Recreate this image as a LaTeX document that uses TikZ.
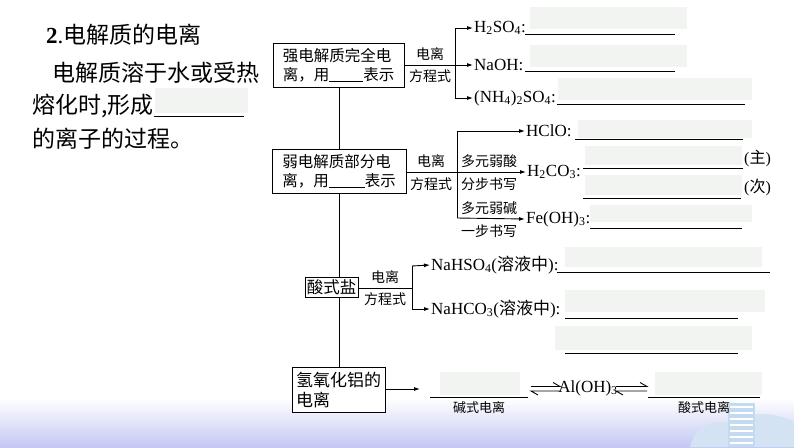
\documentclass[tikz,border=0pt]{standalone}
\usepackage{fontspec}
\setmainfont{Liberation Serif}
\newfontfamily\cjk{Noto Sans CJK SC}
\usetikzlibrary{arrows.meta}
\definecolor{phc}{HTML}{F1F4F1}
\definecolor{bandc}{HTML}{C4C8F2}
\definecolor{cityc}{HTML}{B5D0EC}
\tikzset{
  bx/.style={draw, line width=0.9pt, fill=white, inner sep=3pt, align=left, font=\cjk\fontsize{15.5}{19}\selectfont},
  lbl/.style={inner sep=1pt, font=\cjk\fontsize{14}{16}\selectfont},
  fm/.style={inner sep=1pt, anchor=west, font=\fontsize{17}{18}\selectfont},
  ph/.style={fill=phc, draw=none},
  ul/.style={line width=0.9pt},
  ln/.style={line width=0.9pt},
  arr/.style={line width=0.9pt, -{Latex[length=6pt,width=4pt]}},
  hp/.style={line width=0.9pt},
}
\newcommand{\blk}[1]{\rule[-2pt]{#1}{0.7pt}}
\begin{document}
\begin{tikzpicture}[x=1pt,y=-1pt]
\useasboundingbox (0,0) rectangle (794,447);
% background band
\shade[top color=white, bottom color=bandc] (0,398) rectangle (794,447);
% city decoration
\fill[cityc!60] (690,447) .. controls (695,425) and (715,418) .. (735,424) .. controls (750,410) and (775,412) .. (794,422) -- (794,447) -- cycle;
\fill[cityc!80] (728,403) rectangle (755,447);
\foreach \yy in {407,413,...,443} \draw[white, line width=1.3pt] (730,\yy) -- (753,\yy);
% title and paragraph
\node[anchor=west, inner sep=0pt, font=\fontsize{23}{26}\selectfont] (title) at (46,35) {\textbf{2}.{\cjk 电解质的电离}};
\fill[ph] (155,88) rectangle (248,113);
\node[anchor=west, inner sep=0pt, font=\cjk\fontsize{23}{26}\selectfont] (p1) at (52,73) {电解质溶于水或受热};
\node[anchor=west, inner sep=0pt, font=\cjk\fontsize{23}{26}\selectfont] (p2) at (32,106) {熔化时,形成\rule[-3pt]{90pt}{0.7pt}};
\node[anchor=west, inner sep=0pt, font=\cjk\fontsize{23}{26}\selectfont] (p3) at (32,139) {的离子的过程。};
% placeholders
\fill[ph] (530,7) rectangle (687,29);
\fill[ph] (530,45) rectangle (687,67);
\fill[ph] (558,78) rectangle (752,100);
\fill[ph] (578,120) rectangle (752,138);
\fill[ph] (585,146) rectangle (742,165);
\fill[ph] (585,175) rectangle (742,195);
\fill[ph] (590,205) rectangle (752,222);
\fill[ph] (565,247) rectangle (762,267);
\fill[ph] (565,290) rectangle (765,312);
\fill[ph] (555,326) rectangle (752,350);
\fill[ph] (440,372) rectangle (520,395);
\fill[ph] (655,372) rectangle (762,395);
% boxes
\node[bx, minimum width=131pt, minimum height=44pt] (b1) at (338.5,65) {强电解质完全电\\离，用\blk{34pt}表示};
\node[bx, minimum width=134pt, minimum height=44pt] (b2) at (339,171) {弱电解质部分电\\离，用\blk{36pt}表示};
\node[bx, minimum width=53pt, minimum height=20pt, inner sep=0.5pt, font=\cjk\fontsize{16.5}{19}\selectfont] (b3) at (331.5,287.5) {酸式盐};
\node[bx, minimum width=93pt, minimum height=45pt, font=\cjk\fontsize{17}{20}\selectfont] (b4) at (338.5,390) {氢氧化铝的\\电离};
% main vertical line
\draw[ln] (b1.south -| 339,0) -- (b2.north -| 339,0);
\draw[ln] (b2.south -| 339,0) -- (b3.north -| 339,0);
\draw[ln] (b3.south -| 339,0) -- (b4.north -| 339,0);
% branch 1
\coordinate (j1) at (455,65);
\coordinate (j1a) at (455,28);
\coordinate (j1c) at (455,98);
\draw[ln] (b1.east) -- (j1);
\draw[ln] (j1a) -- (j1c);
\node[lbl] (l1a) at (430,54) {电离};
\node[lbl] (l1b) at (430,76) {方程式};
\node[fm] (t11) at (473,28) {H\textsubscript{2}SO\textsubscript{4}:};
\node[fm] (t12) at (473,65) {NaOH:};
\node[fm] (t13) at (473,98) {(NH\textsubscript{4})\textsubscript{2}SO\textsubscript{4}:};
\draw[arr] (j1a) -- (t11.west);
\draw[arr] (j1) -- (t12.west);
\draw[arr] (j1c) -- (t13.west);
\coordinate (u11a) at (525,34); \coordinate (u11b) at (675,34);
\coordinate (u12a) at (525,71); \coordinate (u12b) at (675,71);
\coordinate (u13a) at (557,104); \coordinate (u13b) at (745,104);
\draw[ul] (u11a) -- (u11b);
\draw[ul] (u12a) -- (u12b);
\draw[ul] (u13a) -- (u13b);
% branch 2
\coordinate (j2) at (457,172);
\coordinate (j2a) at (457,131);
\coordinate (j2c) at (457,218);
\draw[ln] (b2.east |- j2) -- (j2);
\draw[ln] (j2a) -- (j2c);
\node[lbl] (l2a) at (431,161) {电离};
\node[lbl] (l2b) at (431,184) {方程式};
\node[lbl] (l2c) at (489,161) {多元弱酸};
\node[lbl] (l2d) at (489,184) {分步书写};
\node[lbl] (l2e) at (489,208) {多元弱碱};
\node[lbl] (l2f) at (489,231) {一步书写};
\node[fm] (t21) at (525,131) {HClO:};
\node[fm] (t22) at (526,172) {H\textsubscript{2}CO\textsubscript{3}:};
\node[fm] (t23) at (525,219) {Fe(OH)\textsubscript{3}:};
\draw[arr] (j2a) -- (t21.west);
\draw[arr] (j2) -- (t22.west);
\draw[arr] (j2c) -- (t23.west);
\coordinate (u21a) at (575,139); \coordinate (u21b) at (743,139);
\coordinate (u22a) at (583,168); \coordinate (u22b) at (743,168);
\coordinate (u23a) at (583,198); \coordinate (u23b) at (741,198);
\coordinate (u24a) at (590,228); \coordinate (u24b) at (742,228);
\draw[ul] (u21a) -- (u21b);
\draw[ul] (u22a) -- (u22b);
\draw[ul] (u23a) -- (u23b);
\draw[ul] (u24a) -- (u24b);
\node[fm, font=\fontsize{16}{17}\selectfont] (zhu) at (743,159) {({\cjk 主})};
\node[fm, font=\fontsize{16}{17}\selectfont] (ci) at (743,187) {({\cjk 次})};
% branch 3
\coordinate (j3) at (412,288);
\coordinate (j3a) at (412,266);
\coordinate (j3c) at (412,309);
\draw[ln] (b3.east |- j3) -- (j3);
\draw[ln] (j3a) -- (j3c);
\node[lbl] (l3a) at (385,277) {电离};
\node[lbl] (l3b) at (385,299) {方程式};
\node[fm] (t31) at (430,265) {NaHSO\textsubscript{4}({\cjk 溶液中}):};
\node[fm] (t32) at (430,309) {NaHCO\textsubscript{3}({\cjk 溶液中}):};
\draw[arr] (j3a) -- (t31.west);
\draw[arr] (j3c) -- (t32.west);
\coordinate (u31a) at (557,272); \coordinate (u31b) at (770,272);
\coordinate (u32a) at (565,318); \coordinate (u32b) at (738,318);
\coordinate (u33a) at (565,353); \coordinate (u33b) at (738,353);
\draw[ul] (u31a) -- (u31b);
\draw[ul] (u32a) -- (u32b);
\draw[ul] (u33a) -- (u33b);
% branch 4
\coordinate (e4) at (420,389);
\draw[arr] (b4.east |- e4) -- (e4);
\coordinate (u41a) at (430,397); \coordinate (u41b) at (528,397);
\coordinate (u42a) at (648,397); \coordinate (u42b) at (760,397);
\draw[ul] (u41a) -- (u41b);
\draw[ul] (u42a) -- (u42b);
\node[lbl, font=\cjk\fontsize{13}{15}\selectfont] (l4a) at (479,408) {碱式电离};
\node[lbl, font=\cjk\fontsize{13}{15}\selectfont] (l4b) at (704,408) {酸式电离};
\node[fm, anchor=center] (al) at (588,388) {Al(OH)\textsubscript{3}};
% equilibrium harpoons
\coordinate (h1a) at (531,386.5); \coordinate (h1b) at (560,386.5);
\coordinate (h1c) at (531,391); \coordinate (h1d) at (560,391);
\draw[hp] (h1a) -- (h1b) -- ++(-7,-4);
\draw[hp] (h1d) -- (h1c) -- ++(7,4);
\coordinate (h2a) at (616,386.5); \coordinate (h2b) at (647,386.5);
\coordinate (h2c) at (616,391); \coordinate (h2d) at (647,391);
\draw[hp] (h2a) -- (h2b) -- ++(-7,-4);
\draw[hp] (h2d) -- (h2c) -- ++(7,4);
\end{tikzpicture}
\end{document}
